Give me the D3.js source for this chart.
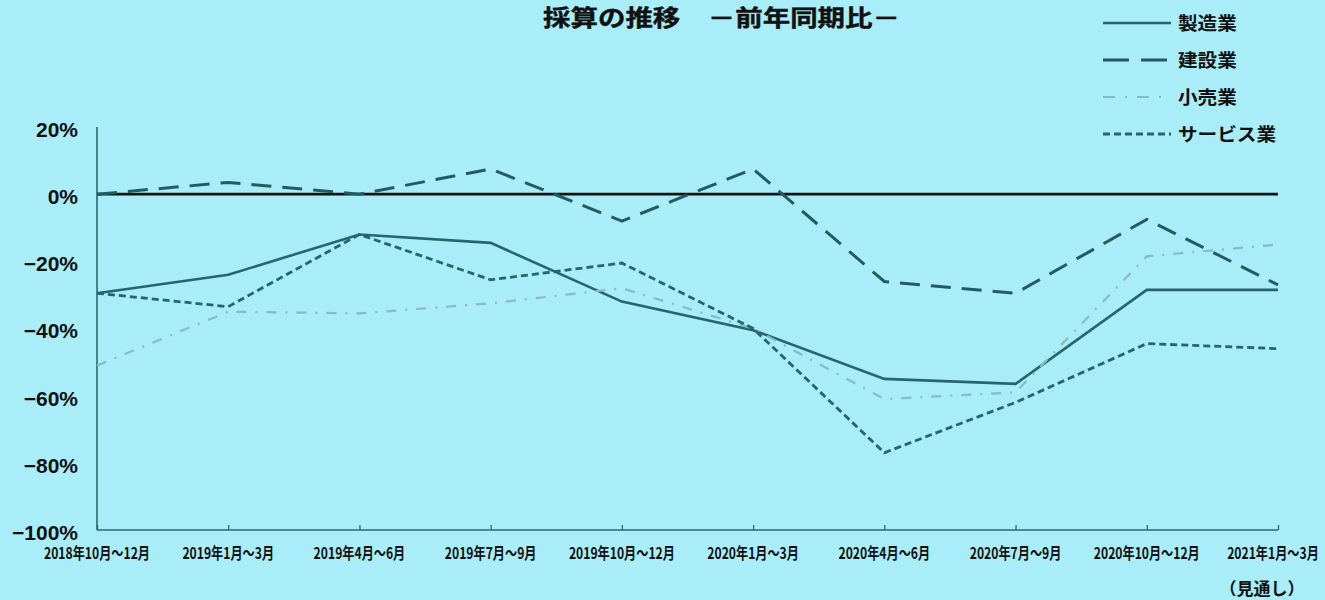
<!DOCTYPE html>
<html>
<head>
<meta charset="utf-8">
<script src="https://cdn.jsdelivr.net/npm/d3@7"></script>
<style>
  html, body { margin: 0; padding: 0; background: #a8edf8; }
  svg { display: block; }
  text { font-family: "Liberation Sans", "Noto Sans CJK JP", sans-serif; font-weight: bold; fill: #111; }
  .jp { font-family: "Noto Sans CJK JP", sans-serif; }
</style>
</head>
<body>
<svg id="chart" width="1325" height="600"></svg>
<script>
// Quarterly periods on the x axis
const periods = [
  "2018年10月～12月", "2019年1月～3月", "2019年4月～6月", "2019年7月～9月",
  "2019年10月～12月", "2020年1月～3月", "2020年4月～6月", "2020年7月～9月",
  "2020年10月～12月", "2021年1月～3月"
];

// Year-over-year profitability by industry (%)
const manufacturing = [-29.5, -24, -12, -14.5, -32, -40.5, -55, -56.5, -28.5, -28.5];
const construction  = [0, 3.5, 0, 7.5, -8, 7.5, -26, -29.5, -7.5, -27];
const retail        = [-51, -35, -35.5, -32.5, -28, -40, -61, -59, -18.5, -15];
const services      = [-29.5, -33.5, -12, -25.5, -20.5, -40, -77, -62, -44.5, -46];

const seriesNames = ["製造業", "建設業", "小売業", "サービス業"];
const yTicks = [20, 0, -20, -40, -60, -80, -100];

const styles = [
  { color: "#24666a", width: 2.6, dash: null },
  { color: "#1f5d61", width: 3,   dash: "20,11" },
  { color: "#86bcc2", width: 2.2, dash: "10,9,2,9" },
  { color: "#24666a", width: 2.8, dash: "7,4" }
];
const seriesData = [manufacturing, construction, retail, services];

const svg = d3.select("#chart");

const x = d3.scalePoint().domain(periods).range([97, 1278]);
const y = d3.scaleLinear().domain([-100, 20]).range([530, 127]);

// Title
svg.append("text")
  .attr("class", "jp")
  .attr("x", 543).attr("y", 26)
  .attr("font-size", 23)
  .attr("stroke", "#111").attr("stroke-width", 0.4)
  .attr("textLength", 357).attr("lengthAdjust", "spacingAndGlyphs")
  .text("採算の推移　－前年同期比－");

// Y axis labels
const yAxis = d3.axisLeft(y)
  .tickValues(yTicks)
  .tickSize(0)
  .tickPadding(19)
  .tickFormat(d => (d < 0 ? "−" : "") + Math.abs(d) + "%");
const gy = svg.append("g").attr("transform", "translate(97,0)").call(yAxis);
gy.select(".domain").remove();
gy.selectAll("text")
  .attr("font-size", 21)
  .attr("font-family", "Liberation Sans, sans-serif")
  .attr("font-weight", "bold")
  .attr("fill", "#111")
  .attr("dy", "0.45em");

// Y axis line
svg.append("line")
  .attr("x1", 97).attr("x2", 97)
  .attr("y1", y(20)).attr("y2", y(-100))
  .attr("stroke", "#2a6a6e").attr("stroke-width", 1.6);

// X axis with inward ticks
const xAxis = d3.axisBottom(x).tickSize(-5).tickPadding(0).tickFormat("");
const gx = svg.append("g").attr("transform", `translate(0,${y(-100)})`).call(xAxis);
gx.select(".domain").attr("d", `M${x(periods[0])},0H${x(periods[periods.length - 1])}`)
  .attr("stroke", "#2a6a6e").attr("stroke-width", 1.6);
gx.selectAll(".tick line").attr("stroke", "#2a6a6e").attr("stroke-width", 1.3);

// X labels, horizontally condensed; the last one is nudged left to stay inside the page
const lastIdx = periods.length - 1;
svg.append("g").selectAll("text")
  .data(periods)
  .join("text")
  .attr("class", "jp")
  .attr("transform", (d, i) => `translate(${x(d) - (i === lastIdx ? 5 : 0)},559) scale(0.76,1)`)
  .attr("text-anchor", "middle")
  .attr("font-size", 16)
  .text(d => d);

svg.append("text")
  .attr("class", "jp")
  .attr("x", 1262).attr("y", 595)
  .attr("text-anchor", "middle")
  .attr("font-size", 17)
  .text("（見通し）");

// Zero reference line
svg.append("line")
  .attr("x1", x(periods[0])).attr("x2", x(periods[lastIdx]))
  .attr("y1", y(0)).attr("y2", y(0))
  .attr("stroke", "#111").attr("stroke-width", 2.6);

// Series lines
const line = d3.line().x((d, i) => x(periods[i])).y(d => y(d));
seriesData.forEach((vals, k) => {
  svg.append("path")
    .datum(vals)
    .attr("d", line)
    .attr("fill", "none")
    .attr("stroke", styles[k].color)
    .attr("stroke-width", styles[k].width)
    .attr("stroke-dasharray", styles[k].dash)
    .attr("stroke-linejoin", "miter");
});

// Legend
const legend = svg.append("g");
seriesNames.forEach((name, k) => {
  const cy = 23 + k * 37;
  legend.append("line")
    .attr("x1", 1103).attr("x2", 1171)
    .attr("y1", cy).attr("y2", cy)
    .attr("stroke", styles[k].color)
    .attr("stroke-width", styles[k].width)
    .attr("stroke-dasharray", k === 1 ? "26,12" : k === 2 ? "12,10,2,10" : styles[k].dash);
  legend.append("text")
    .attr("class", "jp")
    .attr("x", 1178).attr("y", cy + 7)
    .attr("font-size", 18)
    .attr("textLength", name.length * 19.6).attr("lengthAdjust", "spacingAndGlyphs")
    .text(name);
});
</script>
</body>
</html>
